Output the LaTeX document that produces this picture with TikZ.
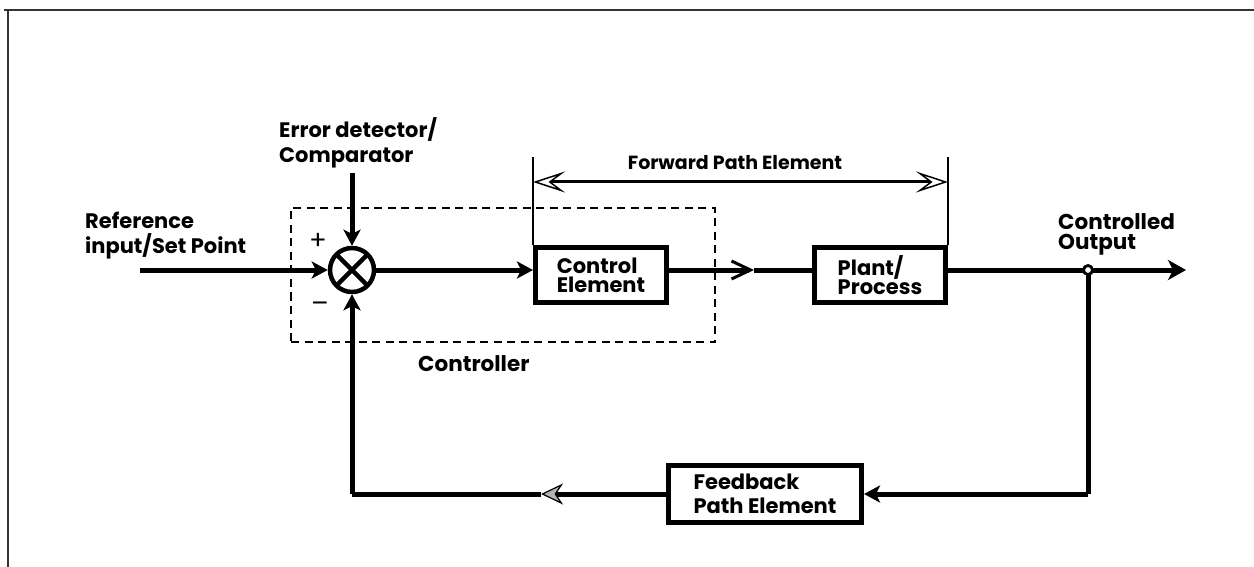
\documentclass[tikz,border=0pt]{standalone}
\usepackage{fontspec}
\setmainfont{Poppins}
\usetikzlibrary{arrows.meta}
\tikzset{
  lbl/.style={font=\fontsize{21}{25}\selectfont\bfseries, align=left, inner sep=0pt},
  blockbox/.style={draw, line width=5pt, minimum width=131pt, minimum height=55pt, inner sep=0pt,
    font=\fontsize{21}{19}\selectfont\bfseries, align=left},
  wire/.style={line width=5pt},
  tipin/.style={-{Stealth[length=16pt,width=17pt,inset=4pt]}},
  sign/.style={font=\fontsize{26}{26}\selectfont, inner sep=0pt},
  spantip/.tip={Stealth[open, length=32pt, width=21pt, inset=14pt, line width=1.5pt, fill=white]},
}
\begin{document}
\begin{tikzpicture}[x=1pt,y=-1pt]
\useasboundingbox (0,0) rectangle (1254,567);

% frame corner
\draw[line width=1.8pt, black!80] (1254,10) -- (4,10);
\draw[line width=1.8pt, black!80] (8,10) -- (8,567);

% summing junction
\node[circle, draw, line width=4.5pt, minimum size=44pt, inner sep=0pt,
  path picture={\draw[line width=4.5pt] (path picture bounding box.north west) -- (path picture bounding box.south east)
     (path picture bounding box.north east) -- (path picture bounding box.south west);}] (sum) at (352,270) {};

% blocks
\node[blockbox] (ctrl) at (601,275) {Control\\Element};
\node[blockbox] (plant) at (880,275) {Plant/\\Process};
\node[blockbox, minimum width=193pt, minimum height=57pt, font=\fontsize{21}{24}\selectfont\bfseries] (fb) at (765,494) {Feedback\\Path Element};

% controller boundary
\node[draw, line width=2.8pt, dash pattern=on 8pt off 5.5pt, minimum width=424pt, minimum height=134pt, inner sep=0pt] (cbox) at (503,275) {};

% labels
\node[lbl, anchor=west] (ref) at (85,236) {Reference\\input/Set Point};
\node[lbl, anchor=west] (err) at (279,143) {Error detector/\\Comparator};
\node[lbl, anchor=west, font=\fontsize{21.5}{20}\selectfont\bfseries] (outl) at (1058,234) {Controlled\\Output};
\node[lbl, anchor=west, font=\fontsize{21.5}{25}\selectfont\bfseries] (cname) at (418,364) {Controller};
\node[font=\fontsize{19}{19}\selectfont\bfseries, inner sep=0pt] (fpe) at (735,163) {Forward Path Element};
\node[sign] (plus) at (318,241) {+};
\node[sign] (minus) at (320,307) {–};

% coordinates for wires
\coordinate (in) at (140,270);
\coordinate (errtop) at (352,173);
\coordinate (mid) at (754,270);
\coordinate (jn) at (1088,270);
\coordinate (out) at (1186,270);
\coordinate (jnb) at (1088,494);
\coordinate (gtip) at (541,494);
\coordinate (corner) at (352,494);
\coordinate (fl) at (533,157);
\coordinate (fr) at (948,157);
\coordinate (al) at (533,182);
\coordinate (ar) at (948,182);

% forward path span
\draw[line width=1.3pt] (fl) -- (fl |- ctrl.north);
\draw[line width=1.3pt] (fr) -- (fr |- plant.north);
\draw[line width=3pt, spantip-spantip] (al) -- (ar);

% signal wires
\draw[wire, tipin] (in) -- (sum.west);
\draw[wire, tipin] (errtop) -- (sum.north);
\draw[wire, tipin] (sum.east) -- (sum -| ctrl.west);
\draw[wire, -{Straight Barb[length=19pt, width=18pt, line width=3pt]}] (ctrl.east |- sum) -- (mid);
\draw[wire] (mid) -- (mid -| plant.west);
\draw[wire, -{Stealth[length=18pt,width=20pt,inset=5pt]}] (plant.east |- sum) -- (out);
\draw[wire] (jn) -- (jnb);
\draw[wire, tipin] (jnb) -- (fb.east);
\draw[wire, -{Stealth[length=22pt, width=21pt, inset=7pt, fill=black!30, line width=1.2pt]}] (fb.west) -- (gtip);
\draw[wire] (gtip) -- (corner);
\draw[wire, tipin] (corner) -- (sum.south);

% take-off point
\node[circle, draw, fill=white, line width=2.8pt, minimum size=9pt, inner sep=0pt] (tap) at (jn) {};
\end{tikzpicture}
\end{document}
